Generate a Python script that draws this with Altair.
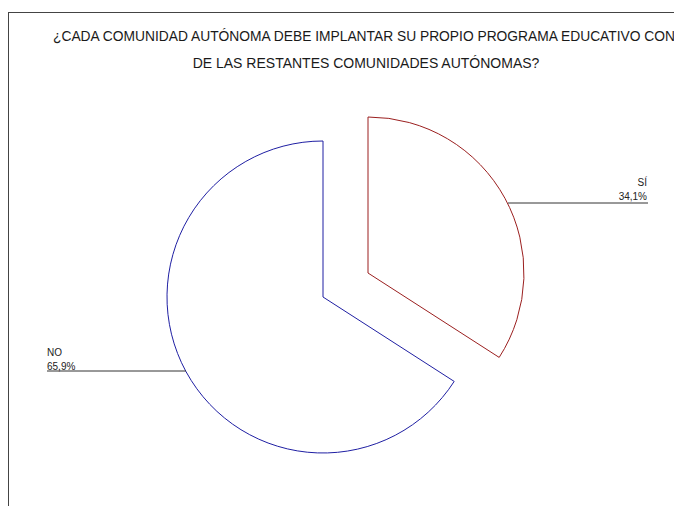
import altair as alt
import pandas as pd

categories = ["SÍ", "NO"]
values = [34.1, 65.9]
pct_labels = ["34,1%", "65,9%"]
order = [0, 1]
title_lines = [
    "¿CADA COMUNIDAD AUTÓNOMA DEBE IMPLANTAR SU PROPIO PROGRAMA EDUCATIVO CON",
    "DE LAS RESTANTES COMUNIDADES AUTÓNOMAS?",
]

df = pd.DataFrame({"cat": categories, "val": values, "lab": pct_labels, "order": order})

FONT = "Liberation Sans"
RED = "#9b1f1f"
BLUE = "#1f1fa3"
R = 156

base = (
    alt.Chart(df)
    .transform_window(end="sum(val)", sort=[alt.SortField("order")], frame=[None, 0])
    .transform_calculate(start="datum.end - datum.val")
)
theta_scale = alt.Scale(domain=[0, 100])

si_arc = base.transform_filter(alt.datum.cat == "SÍ").mark_arc(
    fill="white", stroke=RED, strokeWidth=1, radius=R
).encode(
    theta=alt.Theta("start:Q", scale=theta_scale),
    theta2="end:Q",
    x=alt.value(360),
    y=alt.value(261),
)
no_arc = base.transform_filter(alt.datum.cat == "NO").mark_arc(
    fill="white", stroke=BLUE, strokeWidth=1, radius=R
).encode(
    theta=alt.Theta("start:Q", scale=theta_scale),
    theta2="end:Q",
    x=alt.value(315),
    y=alt.value(285),
)

one = alt.Chart(pd.DataFrame({"k": [0]}))

frame_top = one.mark_rule(color="#444444", strokeWidth=1).encode(
    x=alt.value(0), x2=alt.value(666), y=alt.value(0.5)
)
frame_left = one.mark_rule(color="#444444", strokeWidth=1).encode(
    x=alt.value(0.5), y=alt.value(0), y2=alt.value(494)
)

t1 = one.mark_text(font=FONT, fontSize=13.8, align="left", color="#1a1a1a").encode(
    x=alt.value(45), y=alt.value(25), text=alt.value(title_lines[0])
)
t2 = one.mark_text(font=FONT, fontSize=14, align="center", color="#1a1a1a").encode(
    x=alt.value(358), y=alt.value(52), text=alt.value(title_lines[1])
)

si_name = base.transform_filter(alt.datum.cat == "SÍ").mark_text(
    font=FONT, fontSize=10, align="right", color="#222222"
).encode(x=alt.value(639), y=alt.value(171), text="cat:N")
si_pct = base.transform_filter(alt.datum.cat == "SÍ").mark_text(
    font=FONT, fontSize=10, align="right", color="#222222"
).encode(x=alt.value(639), y=alt.value(185), text="lab:N")
si_line = base.transform_filter(alt.datum.cat == "SÍ").mark_rule(color="#333333").encode(
    x=alt.value(500), x2=alt.value(640), y=alt.value(191)
)

no_name = base.transform_filter(alt.datum.cat == "NO").mark_text(
    font=FONT, fontSize=10, align="left", color="#222222"
).encode(x=alt.value(39), y=alt.value(341), text="cat:N")
no_pct = base.transform_filter(alt.datum.cat == "NO").mark_text(
    font=FONT, fontSize=10, align="left", color="#222222"
).encode(x=alt.value(39), y=alt.value(355), text="lab:N")
no_line = base.transform_filter(alt.datum.cat == "NO").mark_rule(color="#333333").encode(
    x=alt.value(39), x2=alt.value(178), y=alt.value(359)
)

chart = (
    alt.layer(
        frame_top, frame_left, no_arc, si_arc, si_line, no_line,
        t1, t2, si_name, si_pct, no_name, no_pct,
    )
    .properties(
        width=666,
        height=494,
        padding={"left": 8, "top": 12, "right": 0, "bottom": 0},
        autosize=alt.AutoSizeParams(type="none"),
        background="white",
    )
    .configure_view(stroke=None)
)

chart.save("out.html", embed_options={"renderer": "svg", "actions": False})
